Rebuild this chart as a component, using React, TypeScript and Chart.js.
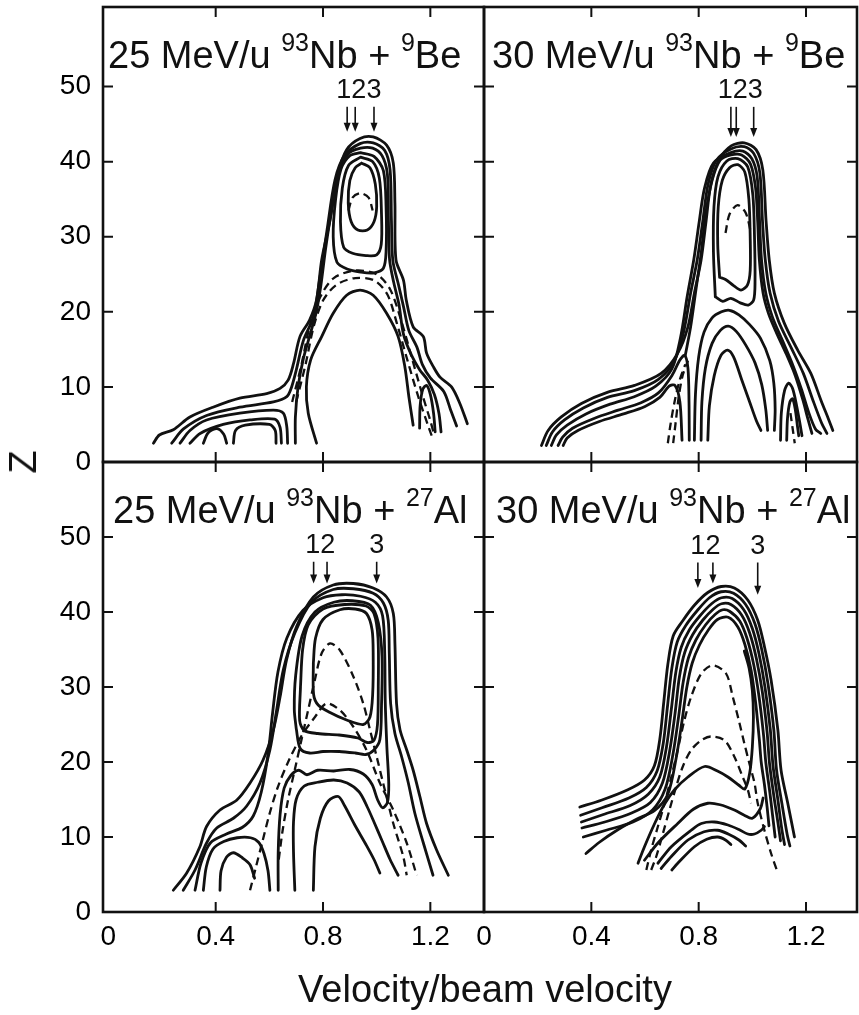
import { useEffect, useRef } from 'react';
import { Chart, registerables } from 'chart.js';

Chart.register(...registerables);

type Pt = [number, number];

// ---------- axis values ----------
const xLabelValues = [0, 0.4, 0.8, 1.2];
const xMarkValues = [0.4, 0.8, 1.2];
const zLabelValues = [0, 10, 20, 30, 40, 50];
const zMarkValues = [10, 20, 30, 40, 50];
const peakMarkLabels = ['1', '2', '3'];

// ---------- 25 MeV/u 93Nb + 9Be ----------
const be25Title: [string, boolean][] = [['25 MeV/u ', false], ['93', true], ['Nb + ', false], ['9', true], ['Be', false]];
const be25Arrows = [0.89, 0.92, 0.99];
const be25ArrowTips = [44, 44, 44];
const be25ArrowTail = 47.3;

const be25Outer: Pt[] = [[0.168, 2.5], [0.19, 3.6], [0.242, 4.3], [0.304, 6.0], [0.39, 7.3], [0.49, 8.5], [0.59, 9.1], [0.64, 9.8], [0.67, 10.9], [0.69, 13.1], [0.714, 16.7], [0.75, 18.9], [0.776, 21.6], [0.795, 26.9], [0.826, 32.2], [0.857, 38.5], [0.888, 41.6], [0.938, 43.1], [0.987, 43.3], [1.037, 42.2], [1.062, 39.8], [1.068, 34.5], [1.072, 26.9], [1.1, 24.2], [1.11, 21.6], [1.136, 18.0], [1.174, 16.7], [1.186, 14.5], [1.211, 12.7], [1.236, 11.3], [1.279, 10.0], [1.31, 7.8], [1.338, 5.1]];
const be25Ridge: Pt[] = [[0.236, 2.5], [0.28, 4.4], [0.366, 6.2], [0.49, 7.3], [0.615, 8.0], [0.665, 8.7], [0.683, 10], [0.7, 12.2], [0.727, 16.2], [0.764, 19.3], [0.787, 24.2], [0.815, 30.9], [0.845, 37.6], [0.88, 40.8], [0.938, 42.4], [0.987, 42.5], [1.03, 41.5], [1.05, 38.9], [1.055, 32.2], [1.06, 26.9], [1.08, 23.8], [1.1, 20.7], [1.12, 17.5], [1.15, 15.3], [1.17, 13], [1.2, 11.2], [1.25, 9.4], [1.275, 7], [1.298, 4.8]];
const be25Flank: Pt[] = [[0.697, 2.5], [0.697, 6], [0.707, 10], [0.727, 13.8], [0.752, 17], [0.775, 20], [0.792, 23.5], [0.81, 28.5], [0.834, 34], [0.86, 38.5], [0.892, 41], [0.94, 41.8], [0.985, 41.8], [1.02, 40.8], [1.04, 38.3], [1.044, 32], [1.048, 27], [1.063, 24], [1.083, 21], [1.1, 17], [1.13, 14.2], [1.16, 12.3], [1.19, 10.9], [1.215, 9], [1.232, 6.5], [1.24, 4]];
const be25Ring3: Pt[] = [[0.94, 41.2], [0.99, 40.7], [1.025, 38.8], [1.035, 34], [1.035, 28], [1.025, 25.8], [0.99, 25.2], [0.94, 25.3], [0.89, 25.7], [0.852, 26.6], [0.838, 30], [0.847, 35], [0.867, 39], [0.9, 40.8], [0.94, 41.2]];
const be25Ring2: Pt[] = [[0.94, 40.6], [0.985, 40], [1.01, 37.8], [1.018, 33], [1.017, 29], [1.0, 27.6], [0.96, 27.5], [0.91, 27.8], [0.877, 28.6], [0.865, 32], [0.872, 36.5], [0.895, 39.5], [0.94, 40.6]];
const be25Ring1: Pt[] = [[0.944, 39.8], [0.975, 39.2], [0.995, 37], [1.0, 34], [0.99, 32], [0.965, 30.9], [0.93, 30.9], [0.905, 32], [0.894, 34.5], [0.9, 37.5], [0.92, 39.2], [0.944, 39.8]];
const be25Arch: Pt[] = [[0.776, 2.5], [0.745, 6.5], [0.738, 10], [0.754, 13.6], [0.795, 16.7], [0.838, 19.8], [0.888, 22.2], [0.938, 22.9], [0.987, 22.2], [1.037, 19.8], [1.08, 16.7], [1.105, 12.7], [1.12, 8.7], [1.136, 4.9]];
const be25LobeA: Pt[] = [[0.267, 2.5], [0.304, 4.2], [0.366, 5.6], [0.49, 6.5], [0.615, 6.9], [0.652, 6.5], [0.665, 4.7], [0.668, 2.5]];
const be25LobeB: Pt[] = [[0.304, 2.5], [0.342, 3.8], [0.428, 5.0], [0.528, 5.6], [0.62, 5.7], [0.64, 4.6], [0.645, 2.5]];
const be25LobeC: Pt[] = [[0.354, 2.5], [0.372, 3.9], [0.405, 4.45], [0.43, 3.7], [0.441, 2.5]];
const be25LobeD: Pt[] = [[0.466, 2.5], [0.474, 4.2], [0.51, 4.9], [0.6, 5.0], [0.622, 4.2], [0.625, 2.5]];
const be25Bump: Pt[] = [[1.16, 4.5], [1.162, 7.5], [1.172, 9.7], [1.186, 10.2], [1.2, 9], [1.212, 6.5], [1.218, 4]];
const be25DashA: Pt[] = [[0.685, 8], [0.72, 13], [0.75, 18], [0.79, 22], [0.84, 24.5], [0.92, 25.5], [1.0, 25], [1.05, 23], [1.09, 19], [1.13, 14], [1.17, 9], [1.2, 5.5], [1.215, 3.5]];
const be25DashB: Pt[] = [[0.7, 8], [0.735, 13], [0.765, 18], [0.8, 21.5], [0.85, 23.6], [0.92, 24.5], [0.99, 24.2], [1.04, 22.3], [1.075, 18.5], [1.115, 13.5], [1.155, 8.7], [1.19, 5], [1.205, 3.5]];
const be25DashCap: Pt[] = [[0.895, 33.5], [0.91, 35.2], [0.94, 35.8], [0.97, 35.2], [0.985, 33.5]];

// ---------- 30 MeV/u 93Nb + 9Be ----------
const be30Title: [string, boolean][] = [['30 MeV/u ', false], ['93', true], ['Nb + ', false], ['9', true], ['Be', false]];
const be30Arrows = [0.92, 0.94, 1.005];
const be30ArrowTips = [43.3, 43.3, 43.3];
const be30ArrowTail = 47.3;

const be30Outer: Pt[] = [[0.214, 2.2], [0.239, 4.2], [0.288, 6.0], [0.363, 7.8], [0.462, 9.3], [0.561, 10.2], [0.66, 11.8], [0.722, 14.5], [0.76, 18], [0.784, 22.5], [0.809, 26.9], [0.828, 32.2], [0.846, 37.1], [0.877, 40.3], [0.921, 42.1], [0.97, 42.5], [1.014, 41.6], [1.039, 38.9], [1.051, 32.2], [1.063, 26.9], [1.082, 22.5], [1.119, 18.5], [1.169, 14.9], [1.218, 11.8], [1.256, 8.2], [1.285, 5.6], [1.3, 4.2]];
const be30Tail2: Pt[] = [[0.232, 2.2], [0.255, 4.0], [0.3, 5.6], [0.37, 7.2], [0.46, 8.6], [0.56, 9.5], [0.65, 11], [0.71, 13.5], [0.745, 17.5], [0.77, 22.5], [0.795, 27], [0.815, 32], [0.835, 37], [0.866, 40.2], [0.92, 41.7], [0.97, 42.0], [1.005, 41.1], [1.028, 38.5], [1.038, 32], [1.048, 27], [1.066, 22.5], [1.098, 18.7], [1.145, 15.2], [1.19, 11.8], [1.225, 8.3], [1.258, 5.2], [1.278, 3.8]];
const be30Tail3: Pt[] = [[0.251, 2.2], [0.27, 3.6], [0.31, 4.9], [0.38, 6.4], [0.47, 7.7], [0.56, 8.7], [0.64, 10.1], [0.7, 12.4], [0.732, 16.5], [0.757, 22], [0.782, 27], [0.802, 32], [0.822, 36.5], [0.855, 39.8], [0.92, 41.2], [0.965, 41.4], [0.998, 40.4], [1.018, 38], [1.027, 32], [1.034, 27], [1.05, 22.5], [1.075, 19.3], [1.112, 16.2], [1.152, 12.8], [1.183, 9.7], [1.21, 6.6], [1.235, 4.4], [1.255, 3.8]];
const be30Tail4: Pt[] = [[0.276, 2.2], [0.293, 3.3], [0.33, 4.5], [0.41, 5.8], [0.5, 6.9], [0.585, 7.9], [0.65, 9.2], [0.7, 11.5], [0.73, 13.6], [0.748, 14.2], [0.76, 12.5], [0.764, 8], [0.765, 2.9]];
const be30Tail5: Pt[] = [[0.295, 2.2], [0.31, 3.2], [0.35, 4.2], [0.43, 5.4], [0.52, 6.4], [0.6, 7.4], [0.655, 8.6], [0.69, 10.1], [0.712, 10.2], [0.73, 8], [0.738, 2.9]];
const be30Inner3: Pt[] = [[0.75, 14.2], [0.77, 18], [0.79, 23], [0.81, 28], [0.826, 33], [0.85, 37.5], [0.88, 40.2], [0.92, 40.9], [0.96, 40.9], [0.993, 39.7], [1.012, 36.5], [1.02, 32], [1.026, 27], [1.04, 22.5], [1.06, 19.8], [1.09, 17.2], [1.125, 14.5], [1.16, 11.5], [1.188, 8.3], [1.208, 5.6], [1.222, 3.8]];
const be30Core2: Pt[] = [[0.862, 22], [0.855, 28], [0.857, 34], [0.872, 38], [0.905, 40.1], [0.946, 40.4], [0.983, 39.3], [1.002, 35.5], [1.008, 30], [1.01, 24], [1.005, 21.6], [0.985, 20.9], [0.955, 21.2], [0.92, 21.8], [0.89, 21.4], [0.862, 22]];
const be30Core1: Pt[] = [[0.878, 24.6], [0.871, 29], [0.873, 34], [0.888, 37.5], [0.915, 39.2], [0.946, 39.6], [0.972, 38.6], [0.987, 35], [0.992, 30], [0.992, 25.5], [0.982, 23.6], [0.958, 22.9], [0.93, 23.5], [0.9, 24.3], [0.878, 24.6]];
const be30ArchA: Pt[] = [[0.784, 2.9], [0.788, 9], [0.8, 14], [0.82, 17.3], [0.85, 19.2], [0.885, 20], [0.915, 20.2], [0.95, 19.6], [0.99, 18.3], [1.03, 16.5], [1.065, 13.5], [1.08, 10.5], [1.085, 7], [1.082, 4.2]];
const be30ArchB: Pt[] = [[0.809, 2.9], [0.812, 8], [0.825, 12.5], [0.85, 15.8], [0.88, 17.5], [0.91, 18.1], [0.94, 17.4], [0.975, 15.6], [1.01, 13.2], [1.035, 10.3], [1.05, 7], [1.057, 4.2]];
const be30ArchC: Pt[] = [[0.834, 2.9], [0.84, 7.5], [0.858, 11.5], [0.883, 14.2], [0.908, 14.9], [0.93, 14], [0.96, 11], [0.99, 8], [1.015, 5.5], [1.032, 4.2]];
const be30BumpA: Pt[] = [[1.105, 2.9], [1.108, 6.5], [1.12, 9.5], [1.135, 10.5], [1.15, 9.8], [1.165, 7.5], [1.178, 5], [1.185, 3.5]];
const be30BumpB: Pt[] = [[1.128, 2.9], [1.131, 5.8], [1.14, 8], [1.15, 8.4], [1.16, 7], [1.168, 4.8], [1.173, 3.5]];
const be30DashL1: Pt[] = [[0.685, 2.5], [0.695, 5], [0.71, 8], [0.73, 11], [0.75, 13]];
const be30DashL2: Pt[] = [[0.705, 2.5], [0.715, 5.5], [0.725, 8.5], [0.74, 11.5], [0.76, 13.5]];
const be30DashCap: Pt[] = [[0.9, 30.5], [0.915, 33], [0.945, 34.2], [0.975, 33.2], [0.995, 30.5]];
const be30DashBump: Pt[] = [[1.142, 6.5], [1.15, 4.5], [1.158, 2.5]];

// ---------- 25 MeV/u 93Nb + 27Al ----------
const al25Title: [string, boolean][] = [['25 MeV/u ', false], ['93', true], ['Nb + ', false], ['27', true], ['Al', false]];
const al25Arrows = [0.765, 0.815, 1.0];
const al25ArrowTips = [43.8, 43.8, 43.8];
const al25ArrowTail = 46.7;

const al25Outer: Pt[] = [[0.242, 2.9], [0.292, 5.2], [0.341, 8.7], [0.366, 11.4], [0.416, 13.6], [0.478, 14.9], [0.528, 17.2], [0.577, 20.3], [0.615, 24.3], [0.64, 28.7], [0.664, 33.6], [0.702, 38.1], [0.764, 42], [0.838, 43.6], [0.913, 43.8], [0.987, 43.2], [1.037, 42], [1.062, 39.8], [1.068, 35.8], [1.074, 27.8], [1.087, 24.3], [1.112, 21.6], [1.136, 18.9], [1.161, 15.4], [1.186, 11.8], [1.223, 8.3], [1.267, 4.9]];
const al25Ridge: Pt[] = [[0.279, 2.9], [0.323, 5.6], [0.366, 9.2], [0.404, 11.2], [0.466, 12.5], [0.515, 14.1], [0.565, 17.2], [0.602, 21.6], [0.627, 26.9], [0.652, 32.3], [0.695, 37.2], [0.757, 41.3], [0.838, 43.0], [0.913, 43.1], [0.987, 42.5], [1.025, 41.2], [1.043, 38.9], [1.047, 34.5], [1.052, 27.8], [1.068, 23.8], [1.093, 20.7], [1.118, 17.2], [1.142, 13.2], [1.174, 9.2], [1.21, 4.9]];
const al25Pocket: Pt[] = [[0.323, 2.9], [0.345, 6.5], [0.38, 9.2], [0.44, 10.4], [0.5, 11.3], [0.54, 12.8], [0.57, 16], [0.595, 21], [0.612, 26.5], [0.632, 32], [0.665, 36.5], [0.725, 40.2], [0.8, 41.9], [0.87, 42.3], [0.94, 42.1], [0.995, 41.3], [1.022, 39.5], [1.03, 34.5], [1.032, 28], [1.038, 22], [1.045, 17], [1.04, 14.6], [1.022, 13.9], [1.003, 15], [0.983, 17], [0.95, 18.4], [0.9, 19], [0.84, 18.8], [0.78, 18.9], [0.74, 18.3], [0.71, 18.9], [0.68, 18.2], [0.655, 16.5], [0.64, 13], [0.633, 8], [0.633, 2.9]];
const al25Shoulder: Pt[] = [[0.354, 2.9], [0.365, 6], [0.39, 8.4], [0.43, 9.4], [0.48, 9.9], [0.53, 9.9], [0.56, 9.3], [0.58, 7.8], [0.595, 5.5], [0.602, 2.9]];
const al25Knot: Pt[] = [[0.416, 2.9], [0.42, 5.5], [0.44, 7.3], [0.466, 7.9], [0.5, 7.2], [0.528, 6.3], [0.545, 4.5]];
const al25Core1: Pt[] = [[0.764, 33.2], [0.765, 29], [0.782, 27.6], [0.826, 26.6], [0.888, 25.6], [0.95, 25.0], [0.975, 26], [0.985, 29], [0.987, 34], [0.983, 37.6], [0.962, 39.8], [0.92, 40.4], [0.863, 40.3], [0.8, 39], [0.772, 36.5], [0.764, 33.2]];
const al25Core2: Pt[] = [[0.716, 30], [0.713, 25.5], [0.73, 24.2], [0.78, 23.8], [0.86, 23.6], [0.93, 23.2], [0.965, 22.6], [0.99, 22.9], [1.003, 25], [1.006, 30], [1.005, 36.5], [0.99, 39.8], [0.96, 40.8], [0.88, 41.0], [0.8, 40.4], [0.745, 38.3], [0.724, 35], [0.716, 30]];
const al25Core3: Pt[] = [[0.7, 24.5], [0.715, 21.8], [0.75, 21.2], [0.8, 21.4], [0.86, 21.4], [0.92, 21.2], [0.96, 21], [0.99, 21.6], [1.012, 23], [1.018, 27.5], [1.02, 34], [1.006, 38.6], [0.977, 40.9], [0.91, 41.5], [0.84, 41.3], [0.77, 40], [0.722, 36.8], [0.698, 31.5], [0.693, 27], [0.7, 24.5]];
const al25ArchB: Pt[] = [[0.695, 2.9], [0.69, 8], [0.69, 12], [0.7, 15], [0.73, 16.8], [0.78, 17.3], [0.84, 17.6], [0.89, 17.2], [0.935, 16], [0.965, 14], [0.99, 12], [1.02, 9.5], [1.05, 7], [1.08, 4.9]];
const al25ArchC: Pt[] = [[0.764, 2.9], [0.77, 8.7], [0.79, 12.5], [0.82, 14.8], [0.857, 15.4], [0.88, 14.2], [0.92, 11.5], [0.96, 9], [0.99, 7], [1.012, 5.2]];
const al25DashHigh: Pt[] = [[0.635, 7], [0.65, 11], [0.67, 15], [0.695, 19], [0.72, 23], [0.745, 27], [0.77, 31], [0.795, 34.5], [0.826, 35.8], [0.863, 34.9], [0.913, 31.4], [0.95, 27.8], [0.975, 24.3], [1.0, 20.7], [1.024, 17.2], [1.062, 11.8], [1.099, 7.4], [1.112, 4.9]];
const al25DashLow: Pt[] = [[0.528, 2.9], [0.55, 6], [0.575, 9.5], [0.6, 13], [0.63, 16.5], [0.67, 20], [0.72, 23.5], [0.77, 26], [0.813, 27.8], [0.863, 26.9], [0.913, 24.7], [0.962, 21.6], [1.012, 17.2], [1.062, 13.6], [1.112, 9.2], [1.149, 4.9]];

// ---------- 30 MeV/u 93Nb + 27Al ----------
const al30Title: [string, boolean][] = [['30 MeV/u ', false], ['93', true], ['Nb + ', false], ['27', true], ['Al', false]];
const al30Arrows = [0.797, 0.853, 1.02];
const al30ArrowTips = [43.2, 43.8, 42.3];
const al30ArrowTail = 46.6;

const al30Band1: Pt[] = [[0.357, 14.0], [0.437, 14.9], [0.536, 16.3], [0.598, 17.6], [0.635, 19.5], [0.655, 23], [0.67, 28], [0.685, 33], [0.705, 36.8], [0.74, 38.8], [0.784, 40.9], [0.834, 42.6], [0.884, 43.4], [0.933, 43.2], [0.983, 41.6], [1.02, 38.9], [1.045, 35.4], [1.07, 30.9], [1.095, 24.3], [1.107, 18.9], [1.132, 14.5], [1.157, 10.0]];
const al30Band2: Pt[] = [[0.36, 12.9], [0.44, 13.9], [0.54, 15.2], [0.605, 16.6], [0.645, 18.8], [0.668, 22.5], [0.684, 27.5], [0.7, 32.5], [0.72, 36], [0.752, 38.2], [0.795, 40.2], [0.84, 41.9], [0.884, 42.7], [0.93, 42.5], [0.975, 41.0], [1.01, 38.4], [1.035, 35], [1.058, 30.5], [1.08, 24.3], [1.09, 19], [1.11, 14.5], [1.13, 10.3], [1.14, 8.8]];
const al30Band3: Pt[] = [[0.363, 12.0], [0.445, 13.0], [0.545, 14.2], [0.612, 15.7], [0.655, 18], [0.68, 22], [0.698, 27], [0.715, 32], [0.735, 35.3], [0.765, 37.6], [0.805, 39.5], [0.848, 41.1], [0.885, 41.9], [0.925, 41.8], [0.968, 40.3], [1.0, 37.8], [1.025, 34.4], [1.047, 30], [1.067, 24.3], [1.077, 19.5], [1.095, 15], [1.11, 11], [1.12, 9]];
const al30Band4: Pt[] = [[0.365, 11.2], [0.45, 12.0], [0.55, 13.2], [0.62, 14.6], [0.665, 17.2], [0.692, 21.5], [0.712, 26.5], [0.728, 31.3], [0.748, 34.6], [0.778, 37], [0.815, 38.9], [0.855, 40.4], [0.885, 41.1], [0.92, 41.0], [0.96, 39.6], [0.99, 37.2], [1.015, 33.8], [1.037, 29.4], [1.055, 24], [1.064, 19.8], [1.08, 15.5], [1.095, 12], [1.105, 9.5]];
const al30Band5: Pt[] = [[0.37, 10.0], [0.455, 10.9], [0.555, 12.0], [0.628, 13.6], [0.675, 16.4], [0.704, 21], [0.725, 26], [0.742, 30.6], [0.762, 33.9], [0.79, 36.3], [0.826, 38.3], [0.862, 39.7], [0.89, 40.3], [0.915, 40.1], [0.953, 38.8], [0.98, 36.5], [1.005, 33], [1.025, 28.7], [1.042, 23.5], [1.05, 20], [1.065, 16], [1.075, 13], [1.085, 10]];
const al30Band6: Pt[] = [[0.38, 7.8], [0.43, 9.3], [0.5, 11.0], [0.57, 12.4], [0.635, 13.5], [0.685, 15.7], [0.716, 20.5], [0.738, 25.5], [0.756, 30], [0.776, 33.2], [0.803, 35.6], [0.836, 37.6], [0.87, 39], [0.91, 39.3], [0.946, 38], [0.972, 35.7], [0.995, 32.3], [1.012, 28], [1.026, 23], [1.033, 20], [1.045, 17], [1.055, 14], [1.062, 11.5]];
const al30Trough1: Pt[] = [[0.574, 6.5], [0.598, 8.7], [0.636, 11.8], [0.673, 14.4], [0.71, 16.3], [0.76, 18], [0.822, 19.4], [0.87, 18.8], [0.909, 18], [0.95, 16.9], [0.972, 16.4], [0.99, 18.5], [1.0, 22], [1.004, 26], [1.0, 29.5], [0.988, 32.5], [0.97, 34.8]];
const al30Trough2: Pt[] = [[0.598, 6.9], [0.648, 9.2], [0.722, 11.8], [0.78, 13.7], [0.834, 14.5], [0.88, 14.3], [0.933, 13.6], [0.97, 12.9], [1.0, 12.5], [1.03, 13.8], [1.04, 15.2]];
const al30Trough3: Pt[] = [[0.648, 6.5], [0.698, 8.7], [0.772, 10.9], [0.81, 11.8], [0.859, 12.0], [0.909, 11.6], [0.95, 11], [0.983, 10.4], [1.008, 10.4], [1.033, 10.9], [1.045, 11.4]];
const al30Trough4: Pt[] = [[0.66, 5.8], [0.698, 7.4], [0.76, 9.6], [0.82, 10.7], [0.871, 10.9], [0.91, 10.4], [0.95, 9.6], [0.975, 8.8]];
const al30Trough5: Pt[] = [[0.7, 5.6], [0.722, 6.5], [0.784, 8.7], [0.83, 9.7], [0.871, 10], [0.9, 9.6], [0.92, 9]];
const al30DashHigh: Pt[] = [[0.605, 5.6], [0.623, 8.3], [0.648, 11.4], [0.673, 14.5], [0.698, 18], [0.716, 20.7], [0.747, 25.6], [0.772, 28.7], [0.81, 31.8], [0.853, 32.9], [0.902, 31.8], [0.927, 28.7], [0.952, 25.2], [0.97, 22.5], [0.989, 19.8], [1.008, 17.2], [1.02, 14.5], [1.045, 10.9], [1.07, 7.8], [1.095, 5.2]];
const al30DashLow: Pt[] = [[0.623, 5.6], [0.642, 7.4], [0.667, 10.5], [0.691, 13.6], [0.716, 16.7], [0.741, 19.4], [0.772, 21.6], [0.81, 22.9], [0.846, 23.4], [0.896, 22.9], [0.933, 20.7], [0.964, 18], [0.983, 16.3], [0.995, 14.5]];

// ---------- drawing setup ----------
const FIG_W = 859;
const FIG_H = 1015;
const INK = '#111';
const FONT = '"Liberation Sans", Arial, Helvetica, sans-serif';
const TICK_LEN = 10;

interface Curve { pts: Pt[]; dashed?: boolean }
interface Panel {
  key: string;
  area: { left: number; top: number; right: number; bottom: number };
  xRange: [number, number];
  zMax: number;
  showZ: boolean;
  showX: boolean;
  titleInset: number;
  title: [string, boolean][];
  arrows: number[];
  arrowTips: number[];
  arrowTail: number;
  curves: Curve[];
}

const solid = (pts: Pt[]): Curve => ({ pts });
const dashed = (pts: Pt[]): Curve => ({ pts, dashed: true });

const panels: Panel[] = [
  {
    key: 'be25', area: { left: 103, top: 7, right: 484, bottom: 462 }, xRange: [-0.02, 1.4], zMax: 60.6,
    showZ: true, showX: false, titleInset: 5, title: be25Title,
    arrows: be25Arrows, arrowTips: be25ArrowTips, arrowTail: be25ArrowTail,
    curves: [
      solid(be25Outer), solid(be25Ridge), solid(be25Flank), solid(be25Ring3), solid(be25Ring2), solid(be25Ring1),
      solid(be25Arch), solid(be25LobeA), solid(be25LobeB), solid(be25LobeC), solid(be25LobeD), solid(be25Bump),
      dashed(be25DashA), dashed(be25DashB), dashed(be25DashCap),
    ],
  },
  {
    key: 'be30', area: { left: 484, top: 7, right: 857, bottom: 462 }, xRange: [0, 1.39], zMax: 60.6,
    showZ: false, showX: false, titleInset: 8, title: be30Title,
    arrows: be30Arrows, arrowTips: be30ArrowTips, arrowTail: be30ArrowTail,
    curves: [
      solid(be30Outer), solid(be30Tail2), solid(be30Tail3), solid(be30Tail4), solid(be30Tail5), solid(be30Inner3),
      solid(be30Core2), solid(be30Core1), solid(be30ArchA), solid(be30ArchB), solid(be30ArchC),
      solid(be30BumpA), solid(be30BumpB),
      dashed(be30DashL1), dashed(be30DashL2), dashed(be30DashCap), dashed(be30DashBump),
    ],
  },
  {
    key: 'al25', area: { left: 103, top: 462, right: 484, bottom: 912 }, xRange: [-0.02, 1.4], zMax: 60,
    showZ: true, showX: true, titleInset: 10, title: al25Title,
    arrows: al25Arrows, arrowTips: al25ArrowTips, arrowTail: al25ArrowTail,
    curves: [
      solid(al25Outer), solid(al25Ridge), solid(al25Pocket), solid(al25Shoulder), solid(al25Knot),
      solid(al25Core1), solid(al25Core2), solid(al25Core3), solid(al25ArchB), solid(al25ArchC),
      dashed(al25DashHigh), dashed(al25DashLow),
    ],
  },
  {
    key: 'al30', area: { left: 484, top: 462, right: 857, bottom: 912 }, xRange: [0, 1.39], zMax: 60,
    showZ: false, showX: true, titleInset: 12, title: al30Title,
    arrows: al30Arrows, arrowTips: al30ArrowTips, arrowTail: al30ArrowTail,
    curves: [
      solid(al30Band1), solid(al30Band2), solid(al30Band3), solid(al30Band4), solid(al30Band5), solid(al30Band6),
      solid(al30Trough1), solid(al30Trough2), solid(al30Trough3), solid(al30Trough4), solid(al30Trough5),
      dashed(al30DashHigh), dashed(al30DashLow),
    ],
  },
];

// Frame, inward tick marks, panel title and the peak arrows
function makeDecor(p: Panel) {
  return {
    id: 'panelDecor',
    afterDraw(chart: any) {
      const { ctx, chartArea: a } = chart;
      const xs = chart.scales.x;
      const ys = chart.scales.y;
      ctx.save();
      ctx.strokeStyle = INK;
      ctx.fillStyle = INK;
      ctx.lineWidth = 2.6;
      ctx.strokeRect(a.left, a.top, a.right - a.left, a.bottom - a.top);

      ctx.lineWidth = 2;
      ctx.beginPath();
      for (const v of xMarkValues) {
        const px = xs.getPixelForValue(v);
        ctx.moveTo(px, a.bottom); ctx.lineTo(px, a.bottom - TICK_LEN);
        ctx.moveTo(px, a.top); ctx.lineTo(px, a.top + TICK_LEN);
      }
      for (const v of zMarkValues) {
        const py = ys.getPixelForValue(v);
        ctx.moveTo(a.left, py); ctx.lineTo(a.left + TICK_LEN, py);
        ctx.moveTo(a.right, py); ctx.lineTo(a.right - TICK_LEN, py);
      }
      ctx.stroke();

      // title with superscript mass numbers
      ctx.textAlign = 'left';
      ctx.textBaseline = 'alphabetic';
      let tx = a.left + p.titleInset;
      const ty = a.top + 61;
      for (const [txt, sup] of p.title) {
        ctx.font = `${sup ? 25 : 38}px ${FONT}`;
        ctx.fillText(txt, tx, sup ? ty - 17 : ty);
        tx += ctx.measureText(txt).width;
      }

      // arrows
      const tailY = ys.getPixelForValue(p.arrowTail);
      const px = p.arrows.map((v) => xs.getPixelForValue(v));
      ctx.lineWidth = 1.6;
      p.arrows.forEach((_, i) => {
        const tipY = ys.getPixelForValue(p.arrowTips[i]);
        ctx.beginPath();
        ctx.moveTo(px[i], tailY);
        ctx.lineTo(px[i], tipY - 6);
        ctx.stroke();
        ctx.beginPath();
        ctx.moveTo(px[i], tipY);
        ctx.lineTo(px[i] - 3.5, tipY - 9);
        ctx.lineTo(px[i] + 3.5, tipY - 9);
        ctx.closePath();
        ctx.fill();
      });

      // arrow numbers, spread apart when arrows sit close together
      ctx.font = `27px ${FONT}`;
      ctx.textAlign = 'center';
      const w = ctx.measureText('2').width;
      const lx = px.slice();
      for (let k = 0; k < 30; k++) {
        for (let i = 0; i < lx.length - 1; i++) {
          const gap = lx[i + 1] - lx[i];
          if (gap < w) {
            const d = (w - gap) / 2;
            lx[i] -= d;
            lx[i + 1] += d;
          }
        }
      }
      peakMarkLabels.forEach((s, i) => ctx.fillText(s, lx[i], tailY - 9));
      ctx.restore();
    },
  };
}

function buildConfig(p: Panel): any {
  const datasets = p.curves.map((c) => ({
    data: c.pts.map(([x, y]) => ({ x, y })),
    showLine: true,
    borderColor: INK,
    borderWidth: c.dashed ? 2.3 : 2.8,
    borderDash: c.dashed ? [8, 5] : [],
    borderCapStyle: c.dashed ? 'butt' : 'round',
    borderJoinStyle: 'round',
    pointRadius: 0,
    pointHoverRadius: 0,
    tension: 0.3,
    fill: false,
  }));
  const xAxisH = p.showX ? 50 : 0;
  const tickFont = { family: FONT, size: 28 };
  return {
    type: 'scatter',
    data: { datasets },
    options: {
      animation: false,
      responsive: false,
      devicePixelRatio: 1,
      events: [],
      layout: {
        padding: { left: 0, top: p.area.top, right: FIG_W - p.area.right, bottom: FIG_H - p.area.bottom - xAxisH },
      },
      plugins: { legend: { display: false }, tooltip: { enabled: false } },
      scales: {
        x: {
          type: 'linear',
          position: 'bottom',
          min: p.xRange[0],
          max: p.xRange[1],
          grid: { display: false, drawTicks: false },
          border: { display: false },
          ticks: {
            display: p.showX,
            padding: 8,
            color: '#000',
            font: tickFont,
            maxRotation: 0,
            autoSkip: false,
            callback: (v: number) => (v === 0 ? '0' : Number(v).toFixed(1)),
          },
          afterBuildTicks: (s: any) => { s.ticks = xLabelValues.map((value) => ({ value })); },
          afterFit: (s: any) => {
            s.height = xAxisH;
            s.paddingLeft = 0;
            s.paddingRight = 0;
          },
        },
        y: {
          type: 'linear',
          position: 'left',
          min: 0,
          max: p.zMax,
          grid: { display: false, drawTicks: false },
          border: { display: false },
          ticks: {
            display: p.showZ,
            padding: 12,
            color: '#000',
            font: tickFont,
            autoSkip: false,
            callback: (v: number) => String(v),
          },
          afterBuildTicks: (s: any) => { s.ticks = zLabelValues.map((value) => ({ value })); },
          afterFit: (s: any) => {
            s.width = p.area.left;
            s.paddingTop = 0;
            s.paddingBottom = 0;
          },
        },
      },
    },
    plugins: [makeDecor(p)],
  };
}

export default function App() {
  const refs = useRef<(HTMLCanvasElement | null)[]>([]);

  useEffect(() => {
    const charts = panels.map((p, i) => new Chart(refs.current[i] as HTMLCanvasElement, buildConfig(p)));
    return () => charts.forEach((c) => c.destroy());
  }, []);

  return (
    <div style={{ position: 'absolute', left: 0, top: 0, width: FIG_W, height: FIG_H, background: '#fff', overflow: 'hidden' }}>
      {panels.map((p, i) => (
        <canvas
          key={p.key}
          ref={(el) => { refs.current[i] = el; }}
          width={FIG_W}
          height={FIG_H}
          style={{ position: 'absolute', left: 0, top: 0 }}
        />
      ))}
      <div
        style={{
          position: 'absolute', left: 23, top: 462, transform: 'translate(-50%, -50%) rotate(-90deg)',
          fontFamily: FONT, fontSize: 38, lineHeight: '38px', color: INK,
        }}
      >
        Z
      </div>
      <div
        style={{
          position: 'absolute', left: 0, top: 970, width: 970, textAlign: 'center',
          fontFamily: FONT, fontSize: 38, lineHeight: '38px', color: INK, whiteSpace: 'nowrap',
        }}
      >
        Velocity/beam velocity
      </div>
    </div>
  );
}
